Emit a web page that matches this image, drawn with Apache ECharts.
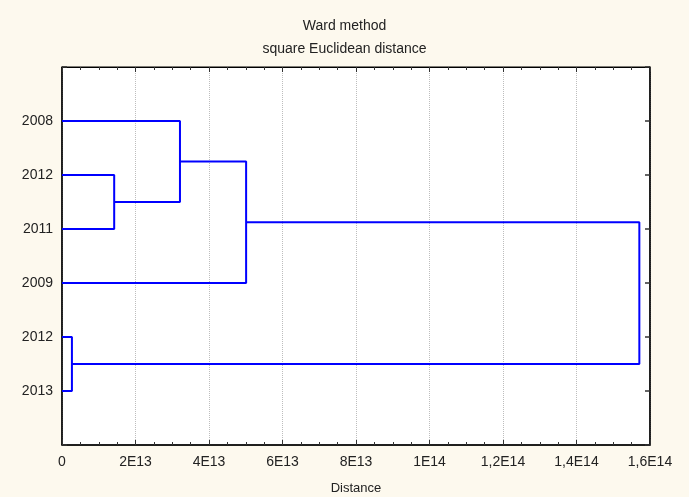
<!DOCTYPE html>
<html><head><meta charset="utf-8">
<script src="https://cdn.jsdelivr.net/npm/echarts@6/dist/echarts.min.js"></script>
<style>html,body{margin:0;padding:0;background:#fdf9ee}#c{width:689px;height:497px}</style>
</head><body><div id="c"></div>
<script>
// Leaf labels, top to bottom
var leafLabels = ['2008', '2012', '2011', '2009', '2012', '2013'];
// Linkage: [childA, childB, distance]; children < 6 are leaves, >= 6 are earlier merges (6 + index)
var mergeA = [1, 0, 7, 4, 8];
var mergeB = [2, 6, 3, 5, 9];
var mergeDist = [1.42e13, 3.21e13, 5.01e13, 0.27e13, 1.571e14];
var xTicks = [0, 2e13, 4e13, 6e13, 8e13, 1e14, 1.2e14, 1.4e14, 1.6e14];

var nodeY = [], nodeX = [];
for (var i = 0; i < leafLabels.length; i++) { nodeY.push(i + 1); nodeX.push(0); }
var segs = [];
for (var m = 0; m < mergeDist.length; m++) {
  var a = mergeA[m], b = mergeB[m], d = mergeDist[m];
  segs.push([[nodeX[a], nodeY[a]], [d, nodeY[a]], [d, nodeY[b]], [nodeX[b], nodeY[b]]]);
  nodeY.push((nodeY[a] + nodeY[b]) / 2); nodeX.push(d);
}
var series = segs.map(function (s) {
  return { type: 'line', data: s, symbol: 'none', silent: true, animation: false,
    lineStyle: { color: '#0000ff', width: 2 } };
});

function fmtX(v) {
  if (v === 0) return '0';
  var e = Math.floor(Math.log10(v) + 1e-9);
  var mant = Math.round(v / Math.pow(10, e) * 10) / 10;
  return String(mant).replace('.', ',') + 'E' + e;
}
var font = 'Liberation Sans, Arial, sans-serif';
var chart = echarts.init(document.getElementById('c'));
chart.setOption({
  backgroundColor: '#fdf9ee',
  animation: false,
  title: { text: 'Ward method\nsquare Euclidean distance', left: 'center', top: 10,
    textStyle: { fontSize: 14, fontWeight: 'normal', color: '#222', fontFamily: font, lineHeight: 23 } },
  grid: { left: 62, right: 39, top: 67, bottom: 52, show: true, backgroundColor: '#fff', borderColor: '#000', borderWidth: 1,
    containLabel: false, outerBoundsMode: 'none' },
  xAxis: [{
    type: 'value', min: 0, max: 1.6e14, interval: 2e13, position: 'bottom',
    name: 'Distance', nameLocation: 'middle', nameGap: 37,
    nameTextStyle: { fontSize: 13, color: '#222', fontFamily: font },
    axisLine: { show: true, onZero: false, lineStyle: { color: '#000', width: 1.5 } },
    axisTick: { show: true, inside: true, length: 5, lineStyle: { color: '#333' } },
    minorTick: { show: true, splitNumber: 4, length: 3, lineStyle: { color: '#333' } },
    axisLabel: { formatter: fmtX, fontSize: 14, color: '#222', fontFamily: font, margin: 10 },
    splitLine: { show: true, lineStyle: { color: '#bdbdbd', type: 'dotted', width: 1 } }
  }, {
    type: 'value', min: 0, max: 1.6e14, interval: 2e13, position: 'top',
    axisLine: { show: true, onZero: false, lineStyle: { color: '#000', width: 1 } },
    axisTick: { show: true, inside: true, length: 5, lineStyle: { color: '#333' } },
    minorTick: { show: true, splitNumber: 4, length: 3, lineStyle: { color: '#333' } },
    axisLabel: { show: false }, splitLine: { show: false }
  }],
  yAxis: [{
    type: 'value', min: 0, max: 7, interval: 1, inverse: true, position: 'left',
    axisLine: { show: true, onZero: false, lineStyle: { color: '#000', width: 1.5 } },
    axisTick: { show: true, inside: true, length: 5, lineStyle: { color: '#333', width: 1.5 } },
    axisLabel: { formatter: function (v) { return (v >= 1 && v <= leafLabels.length) ? leafLabels[v - 1] : ''; },
      fontSize: 14, color: '#222', fontFamily: font, margin: 9 },
    splitLine: { show: false }
  }, {
    type: 'value', min: 0, max: 7, interval: 1, inverse: true, position: 'right',
    axisLine: { show: true, onZero: false, lineStyle: { color: '#000', width: 1.5 } },
    axisTick: { show: true, inside: true, length: 5, lineStyle: { color: '#333', width: 1.5 } },
    axisLabel: { show: false }, splitLine: { show: false }
  }],
  series: series
});
</script></body></html>
